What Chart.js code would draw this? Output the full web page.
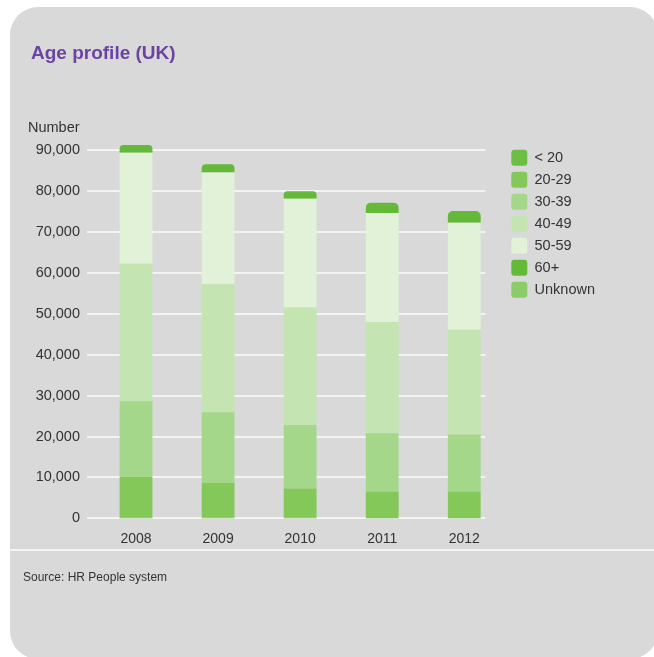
<!DOCTYPE html>
<html>
<head>
<meta charset="utf-8">
<script src="https://cdn.jsdelivr.net/npm/chart.js@4.4.1/dist/chart.umd.min.js"></script>
<style>
  html, body { margin: 0; padding: 0; background: #ffffff; }
  #wrap { position: relative; width: 654px; height: 657px; }
</style>
</head>
<body>
<div id="wrap"><canvas id="chart"></canvas></div>
<script>
// Headcount by age band, UK
const years = ['2008', '2009', '2010', '2011', '2012'];
const bandNames = ['< 20', '20-29', '30-39', '40-49', '50-59', '60+', 'Unknown'];
const under20  = [200, 150, 150, 100, 100];
const age20to29 = [10000, 8500, 7150, 6500, 6500];
const age30to39 = [18400, 17250, 15500, 14200, 13900];
const age40to49 = [33600, 31300, 28700, 27200, 25600];
const age50to59 = [27100, 27300, 26600, 26600, 26100];
const age60plus = [1900, 2000, 1800, 2500, 2900];
const unknownAge = [0, 0, 0, 0, 0];
const yTickValues = [0, 10000, 20000, 30000, 40000, 50000, 60000, 70000, 80000, 90000];

const bandValues = [under20, age20to29, age30to39, age40to49, age50to59, age60plus, unknownAge];
const bandColors = ['#6cbf42', '#84c85a', '#a5d78b', '#c4e5b1', '#e1f2d9', '#64b938', '#8bcc68'];

const FONT = "'Liberation Sans', Arial, sans-serif";

function roundRectPath(ctx, x, y, w, h, r) {
  ctx.beginPath();
  ctx.moveTo(x + r, y);
  ctx.lineTo(x + w - r, y);
  ctx.arcTo(x + w, y, x + w, y + r, r);
  ctx.lineTo(x + w, y + h - r);
  ctx.arcTo(x + w, y + h, x + w - r, y + h, r);
  ctx.lineTo(x + r, y + h);
  ctx.arcTo(x, y + h, x, y + h - r, r);
  ctx.lineTo(x, y + r);
  ctx.arcTo(x, y, x + r, y, r);
  ctx.closePath();
}

// Grey card behind the chart, heading, axis caption, footer rule and source note
const cardPlugin = {
  id: 'card',
  beforeDraw(chart) {
    const ctx = chart.ctx;
    ctx.save();
    ctx.fillStyle = '#d9d9d9';
    roundRectPath(ctx, 10, 7, 648, 652, 28);
    ctx.fill();
    ctx.fillStyle = '#f4f4f4';
    ctx.fillRect(10, 549, 644, 2);
    ctx.restore();
  },
  afterDraw(chart) {
    const ctx = chart.ctx;
    ctx.save();
    ctx.textBaseline = 'alphabetic';
    ctx.textAlign = 'left';
    ctx.fillStyle = '#6b44a3';
    ctx.font = 'bold 19px ' + FONT;
    ctx.fillText('Age profile (UK)', 31, 59);
    ctx.fillStyle = '#333333';
    ctx.font = '14.5px ' + FONT;
    ctx.fillText('Number', 28, 132);
    ctx.font = '12px ' + FONT;
    ctx.fillText('Source: HR People system', 23, 581);
    ctx.restore();
  }
};

// White horizontal rules at each y tick, drawn behind the bars
const rulePlugin = {
  id: 'rules',
  beforeDatasetsDraw(chart) {
    const { ctx, chartArea, scales } = chart;
    const y = scales.y;
    ctx.save();
    ctx.strokeStyle = '#f3f3f3';
    ctx.lineWidth = 2;
    y.ticks.forEach(t => {
      const py = Math.round(y.getPixelForValue(t.value));
      ctx.beginPath();
      ctx.moveTo(chartArea.left - 8, py);
      ctx.lineTo(chartArea.right - 20, py);
      ctx.stroke();
    });
    ctx.restore();
  }
};

const datasets = bandNames.map((name, i) => ({
  label: name,
  data: bandValues[i],
  backgroundColor: bandColors[i],
  borderWidth: 0,
  borderSkipped: 'start',
  borderRadius: name === '60+' ? { topLeft: 5, topRight: 5 } : 0,
  barPercentage: 0.4,
  categoryPercentage: 1.0
}));

new Chart(document.getElementById('chart'), {
  type: 'bar',
  data: { labels: years, datasets },
  plugins: [cardPlugin, rulePlugin],
  options: {
    responsive: true,
    maintainAspectRatio: false,
    animation: false,
    layout: { padding: { top: 143.8, right: 49, bottom: 97.8, left: 0 } },
    plugins: {
      title: { display: false },
      tooltip: { enabled: false },
      legend: {
        display: true,
        position: 'right',
        align: 'start',
        labels: {
          boxWidth: 16,
          boxHeight: 16,
          padding: 6,
          useBorderRadius: true,
          borderRadius: 3,
          color: '#333333',
          font: { family: FONT, size: 14.5 }
        }
      }
    },
    scales: {
      x: {
        stacked: true,
        grid: { display: false, drawTicks: false },
        border: { display: false },
        ticks: { color: '#333333', padding: 12, font: { family: FONT, size: 14 } }
      },
      y: {
        stacked: true,
        min: 0,
        max: 91500,
        grid: { display: false, drawTicks: false },
        border: { display: false },
        ticks: {
          autoSkip: false,
          padding: 15,
          color: '#333333',
          font: { family: FONT, size: 14.5 },
          callback: v => v.toLocaleString('en-US')
        },
        afterBuildTicks(scale) {
          scale.ticks = yTickValues.map(v => ({ value: v }));
        },
        afterFit(scale) { scale.width = 95; }
      }
    }
  }
});
</script>
</body>
</html>
